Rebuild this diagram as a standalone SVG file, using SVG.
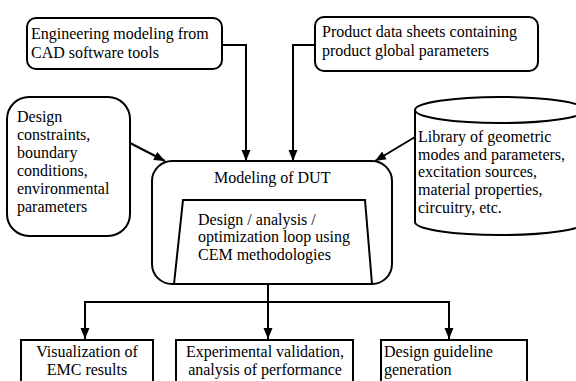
<svg xmlns="http://www.w3.org/2000/svg" width="576" height="381" viewBox="0 0 576 381">
  <defs>
    <marker id="arrow" markerUnits="userSpaceOnUse" markerWidth="12" markerHeight="12" viewBox="0 0 12 12" refX="11" refY="6" orient="auto">
      <path d="M0,1.5 L11,6 L0,10.5 Z" fill="#000"/>
    </marker>
  </defs>
  <style>
    .box { fill: #fff; stroke: #000; stroke-width: 2; }
    .line { fill: none; stroke: #000; stroke-width: 2; }
    .arrow { fill: none; stroke: #000; stroke-width: 2; marker-end: url(#arrow); }
    text { font-family: "Liberation Serif", "Times New Roman", serif; font-size: 16px; fill: #000; }
  </style>
  <rect width="576" height="381" fill="#fff"/>

  <!-- connectors -->
  <g id="connectors">
    <polyline class="arrow" points="222,45 246,45 246,161"/>
    <polyline class="arrow" points="315,45 293,45 293,161"/>
    <line class="arrow" x1="130" y1="143" x2="165" y2="161"/>
    <line class="arrow" x1="415" y1="137" x2="375" y2="161"/>
    <line class="arrow" x1="268" y1="284" x2="268" y2="339"/>
    <polyline class="line" points="85,339 85,302 449,302 449,339"/>
    <line class="arrow" x1="85" y1="310" x2="85" y2="339"/>
    <line class="arrow" x1="449" y1="310" x2="449" y2="339"/>
  </g>

  <!-- input: CAD modeling -->
  <g id="cad">
    <rect class="box" x="27" y="18" width="195" height="51" rx="9"/>
    <text x="31" y="39">Engineering modeling from</text>
    <text x="31" y="58">CAD software tools</text>
  </g>

  <!-- input: product data sheets -->
  <g id="datasheets">
    <rect class="box" x="315" y="17" width="223" height="54" rx="9"/>
    <text x="322" y="37">Product data sheets containing</text>
    <text x="322" y="56">product global parameters</text>
  </g>

  <!-- input: design constraints -->
  <g id="constraints">
    <rect class="box" x="7" y="97" width="123" height="139" rx="22"/>
    <text x="17" y="122">Design</text>
    <text x="17" y="140">constraints,</text>
    <text x="17" y="158">boundary</text>
    <text x="17" y="176">conditions,</text>
    <text x="17" y="194">environmental</text>
    <text x="17" y="212">parameters</text>
  </g>

  <!-- input: model library (database cylinder) -->
  <g id="library">
    <path class="box" d="M415,110 L415,222 A85,13 0 0 0 585,222 L585,110 Z"/>
    <ellipse class="box" cx="500" cy="110" rx="85" ry="13"/>
    <text x="418" y="142">Library of geometric</text>
    <text x="418" y="160">modes and parameters,</text>
    <text x="418" y="177">excitation sources,</text>
    <text x="418" y="195">material properties,</text>
    <text x="418" y="213">circuitry, etc.</text>
  </g>

  <!-- central model with optimization loop -->
  <g id="dut">
    <rect class="box" x="152" y="161" width="240" height="123" rx="20"/>
    <text x="214" y="183">Modeling of DUT</text>
    <path class="line" d="M174,284 L183,200 L365,200 L372,284"/>
    <text x="198" y="225">Design / analysis /</text>
    <text x="198" y="242">optimization loop using</text>
    <text x="198" y="260">CEM methodologies</text>
  </g>

  <!-- outputs -->
  <g id="visualization">
    <rect class="box" x="21" y="340" width="132" height="50"/>
    <text x="87" y="357" text-anchor="middle">Visualization of</text>
    <text x="87" y="375" text-anchor="middle">EMC results</text>
  </g>
  <g id="validation">
    <rect class="box" x="176" y="340" width="177" height="50"/>
    <text x="265" y="357" text-anchor="middle">Experimental validation,</text>
    <text x="265" y="375" text-anchor="middle">analysis of performance</text>
  </g>
  <g id="guidelines">
    <rect class="box" x="381" y="340" width="146" height="50"/>
    <text x="384" y="357">Design guideline</text>
    <text x="384" y="375">generation</text>
  </g>
</svg>
